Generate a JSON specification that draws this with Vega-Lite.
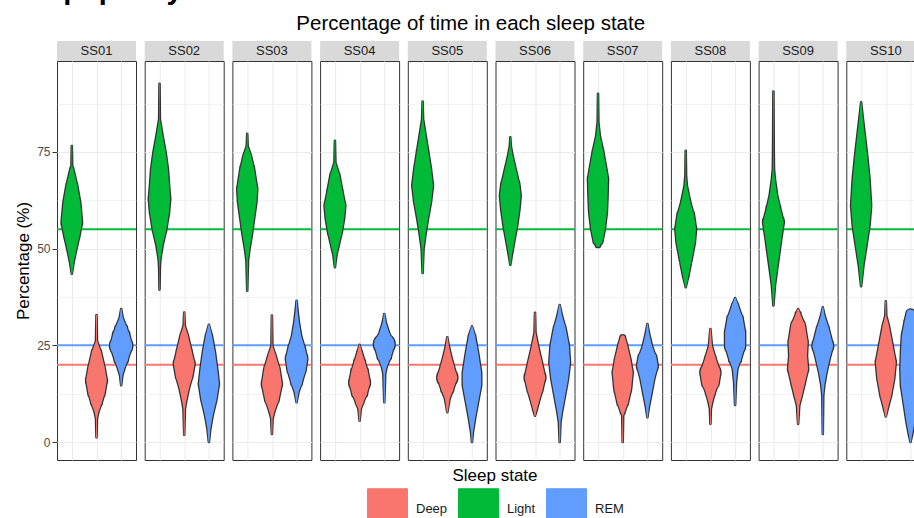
{
  "$schema": "https://vega.github.io/schema/vega-lite/v6.json",
  "padding": {"left": 3, "top": -24, "right": 5, "bottom": 5},
  "background": "white",
  "title": {"text": "Sleep quality", "fontSize": 29, "fontWeight": "bold", "color": "#000000", "anchor": "start", "offset": 8.5, "dx": -11},
  "vconcat": [{
  "bounds": "flush",
  "title": {"text": "Percentage of time in each sleep state", "fontSize": 20.5, "fontWeight": "normal", "color": "#000000", "anchor": "middle", "offset": 6},
  "data": {"values": [
    {"subject":"SS01","state":"Light","ref":55},{"subject":"SS01","state":"Deep","ref":20},{"subject":"SS01","state":"REM","ref":25},
    {"subject":"SS02","state":"Light","ref":55},{"subject":"SS02","state":"Deep","ref":20},{"subject":"SS02","state":"REM","ref":25},
    {"subject":"SS03","state":"Light","ref":55},{"subject":"SS03","state":"Deep","ref":20},{"subject":"SS03","state":"REM","ref":25},
    {"subject":"SS04","state":"Light","ref":55},{"subject":"SS04","state":"Deep","ref":20},{"subject":"SS04","state":"REM","ref":25},
    {"subject":"SS05","state":"Light","ref":55},{"subject":"SS05","state":"Deep","ref":20},{"subject":"SS05","state":"REM","ref":25},
    {"subject":"SS06","state":"Light","ref":55},{"subject":"SS06","state":"Deep","ref":20},{"subject":"SS06","state":"REM","ref":25},
    {"subject":"SS07","state":"Light","ref":55},{"subject":"SS07","state":"Deep","ref":20},{"subject":"SS07","state":"REM","ref":25},
    {"subject":"SS08","state":"Light","ref":55},{"subject":"SS08","state":"Deep","ref":20},{"subject":"SS08","state":"REM","ref":25},
    {"subject":"SS09","state":"Light","ref":55},{"subject":"SS09","state":"Deep","ref":20},{"subject":"SS09","state":"REM","ref":25},
    {"subject":"SS10","state":"Light","ref":55},{"subject":"SS10","state":"Deep","ref":20},{"subject":"SS10","state":"REM","ref":25},

    {"subject":"SS01","state":"Light","pct":76.5,"density":0},{"subject":"SS01","state":"Light","pct":71.5,"density":0.03},{"subject":"SS01","state":"Light","pct":70.6,"density":0.13},{"subject":"SS01","state":"Light","pct":66.3,"density":0.47},{"subject":"SS01","state":"Light","pct":62.0,"density":0.73},{"subject":"SS01","state":"Light","pct":56.8,"density":0.89},{"subject":"SS01","state":"Light","pct":53.4,"density":0.67},{"subject":"SS01","state":"Light","pct":49.9,"density":0.4},{"subject":"SS01","state":"Light","pct":46.5,"density":0.16},{"subject":"SS01","state":"Light","pct":43.5,"density":0},
    {"subject":"SS01","state":"Deep","pct":32.8,"density":0},{"subject":"SS01","state":"Deep","pct":26.2,"density":0.04},{"subject":"SS01","state":"Deep","pct":23.2,"density":0.4},{"subject":"SS01","state":"Deep","pct":18.9,"density":0.73},{"subject":"SS01","state":"Deep","pct":15.9,"density":0.9},{"subject":"SS01","state":"Deep","pct":12.9,"density":0.73},{"subject":"SS01","state":"Deep","pct":10.3,"density":0.47},{"subject":"SS01","state":"Deep","pct":7.7,"density":0.16},{"subject":"SS01","state":"Deep","pct":6.0,"density":0.04},{"subject":"SS01","state":"Deep","pct":1.2,"density":0},
    {"subject":"SS01","state":"REM","pct":34.4,"density":0},{"subject":"SS01","state":"REM","pct":32.2,"density":0.13},{"subject":"SS01","state":"REM","pct":29.2,"density":0.53},{"subject":"SS01","state":"REM","pct":27.5,"density":0.73},{"subject":"SS01","state":"REM","pct":24.9,"density":0.96},{"subject":"SS01","state":"REM","pct":21.5,"density":0.6},{"subject":"SS01","state":"REM","pct":18.9,"density":0.27},{"subject":"SS01","state":"REM","pct":17.2,"density":0.1},{"subject":"SS01","state":"REM","pct":14.7,"density":0},

    {"subject":"SS02","state":"Light","pct":92.6,"density":0},{"subject":"SS02","state":"Light","pct":83.5,"density":0.03},{"subject":"SS02","state":"Light","pct":79.2,"density":0.27},{"subject":"SS02","state":"Light","pct":74.9,"density":0.53},{"subject":"SS02","state":"Light","pct":70.6,"density":0.73},{"subject":"SS02","state":"Light","pct":66.3,"density":0.83},{"subject":"SS02","state":"Light","pct":62.8,"density":0.93},{"subject":"SS02","state":"Light","pct":59.4,"density":0.83},{"subject":"SS02","state":"Light","pct":55.1,"density":0.6},{"subject":"SS02","state":"Light","pct":50.8,"density":0.27},{"subject":"SS02","state":"Light","pct":47.3,"density":0.08},{"subject":"SS02","state":"Light","pct":45.0,"density":0.03},{"subject":"SS02","state":"Light","pct":39.4,"density":0},
    {"subject":"SS02","state":"Deep","pct":33.5,"density":0},{"subject":"SS02","state":"Deep","pct":30.1,"density":0.05},{"subject":"SS02","state":"Deep","pct":27.5,"density":0.33},{"subject":"SS02","state":"Deep","pct":23.2,"density":0.67},{"subject":"SS02","state":"Deep","pct":20.2,"density":0.9},{"subject":"SS02","state":"Deep","pct":17.2,"density":0.73},{"subject":"SS02","state":"Deep","pct":13.7,"density":0.4},{"subject":"SS02","state":"Deep","pct":10.3,"density":0.16},{"subject":"SS02","state":"Deep","pct":8.5,"density":0.06},{"subject":"SS02","state":"Deep","pct":1.9,"density":0},
    {"subject":"SS02","state":"REM","pct":30.3,"density":0},{"subject":"SS02","state":"REM","pct":27.5,"density":0.27},{"subject":"SS02","state":"REM","pct":23.2,"density":0.53},{"subject":"SS02","state":"REM","pct":18.9,"density":0.73},{"subject":"SS02","state":"REM","pct":15.0,"density":0.87},{"subject":"SS02","state":"REM","pct":11.1,"density":0.67},{"subject":"SS02","state":"REM","pct":6.8,"density":0.33},{"subject":"SS02","state":"REM","pct":3.4,"density":0.13},{"subject":"SS02","state":"REM","pct":0,"density":0},

    {"subject":"SS03","state":"Light","pct":79.7,"density":0},{"subject":"SS03","state":"Light","pct":76.6,"density":0.04},{"subject":"SS03","state":"Light","pct":74.0,"density":0.33},{"subject":"SS03","state":"Light","pct":70.6,"density":0.6},{"subject":"SS03","state":"Light","pct":65.4,"density":0.87},{"subject":"SS03","state":"Light","pct":62.0,"density":0.8},{"subject":"SS03","state":"Light","pct":57.7,"density":0.6},{"subject":"SS03","state":"Light","pct":53.4,"density":0.4},{"subject":"SS03","state":"Light","pct":49.9,"density":0.2},{"subject":"SS03","state":"Light","pct":46.9,"density":0.07},{"subject":"SS03","state":"Light","pct":39.1,"density":0},
    {"subject":"SS03","state":"Deep","pct":32.7,"density":0},{"subject":"SS03","state":"Deep","pct":24.9,"density":0.04},{"subject":"SS03","state":"Deep","pct":22.3,"density":0.33},{"subject":"SS03","state":"Deep","pct":18.9,"density":0.67},{"subject":"SS03","state":"Deep","pct":15.0,"density":0.87},{"subject":"SS03","state":"Deep","pct":11.1,"density":0.6},{"subject":"SS03","state":"Deep","pct":7.7,"density":0.2},{"subject":"SS03","state":"Deep","pct":6.0,"density":0.06},{"subject":"SS03","state":"Deep","pct":2.1,"density":0},
    {"subject":"SS03","state":"REM","pct":36.5,"density":0},{"subject":"SS03","state":"REM","pct":34.4,"density":0.07},{"subject":"SS03","state":"REM","pct":31.0,"density":0.2},{"subject":"SS03","state":"REM","pct":27.5,"density":0.4},{"subject":"SS03","state":"REM","pct":24.1,"density":0.73},{"subject":"SS03","state":"REM","pct":21.5,"density":0.93},{"subject":"SS03","state":"REM","pct":18.9,"density":0.8},{"subject":"SS03","state":"REM","pct":15.4,"density":0.47},{"subject":"SS03","state":"REM","pct":12.8,"density":0.16},{"subject":"SS03","state":"REM","pct":10.3,"density":0},

    {"subject":"SS04","state":"Light","pct":77.9,"density":0},{"subject":"SS04","state":"Light","pct":72.3,"density":0.04},{"subject":"SS04","state":"Light","pct":68.9,"density":0.4},{"subject":"SS04","state":"Light","pct":64.6,"density":0.67},{"subject":"SS04","state":"Light","pct":61.1,"density":0.9},{"subject":"SS04","state":"Light","pct":57.7,"density":0.8},{"subject":"SS04","state":"Light","pct":54.2,"density":0.6},{"subject":"SS04","state":"Light","pct":50.8,"density":0.33},{"subject":"SS04","state":"Light","pct":48.2,"density":0.13},{"subject":"SS04","state":"Light","pct":45.2,"density":0},
    {"subject":"SS04","state":"Deep","pct":25.1,"density":0},{"subject":"SS04","state":"Deep","pct":23.2,"density":0.2},{"subject":"SS04","state":"Deep","pct":20.6,"density":0.47},{"subject":"SS04","state":"Deep","pct":18.0,"density":0.73},{"subject":"SS04","state":"Deep","pct":15.4,"density":0.9},{"subject":"SS04","state":"Deep","pct":12.8,"density":0.67},{"subject":"SS04","state":"Deep","pct":10.3,"density":0.33},{"subject":"SS04","state":"Deep","pct":8.5,"density":0.1},{"subject":"SS04","state":"Deep","pct":5.5,"density":0},
    {"subject":"SS04","state":"REM","pct":33.1,"density":0},{"subject":"SS04","state":"REM","pct":31.0,"density":0.13},{"subject":"SS04","state":"REM","pct":28.4,"density":0.4},{"subject":"SS04","state":"REM","pct":25.3,"density":0.9},{"subject":"SS04","state":"REM","pct":22.3,"density":0.6},{"subject":"SS04","state":"REM","pct":19.3,"density":0.2},{"subject":"SS04","state":"REM","pct":17.6,"density":0.08},{"subject":"SS04","state":"REM","pct":10.3,"density":0},

    {"subject":"SS05","state":"Light","pct":88.0,"density":0},{"subject":"SS05","state":"Light","pct":83.5,"density":0.04},{"subject":"SS05","state":"Light","pct":79.2,"density":0.27},{"subject":"SS05","state":"Light","pct":74.9,"density":0.5},{"subject":"SS05","state":"Light","pct":70.6,"density":0.73},{"subject":"SS05","state":"Light","pct":66.3,"density":0.9},{"subject":"SS05","state":"Light","pct":62.0,"density":0.73},{"subject":"SS05","state":"Light","pct":57.7,"density":0.47},{"subject":"SS05","state":"Light","pct":53.4,"density":0.24},{"subject":"SS05","state":"Light","pct":49.9,"density":0.08},{"subject":"SS05","state":"Light","pct":43.7,"density":0},
    {"subject":"SS05","state":"Deep","pct":27.1,"density":0},{"subject":"SS05","state":"Deep","pct":24.9,"density":0.13},{"subject":"SS05","state":"Deep","pct":22.3,"density":0.33},{"subject":"SS05","state":"Deep","pct":19.3,"density":0.6},{"subject":"SS05","state":"Deep","pct":16.7,"density":0.87},{"subject":"SS05","state":"Deep","pct":13.7,"density":0.53},{"subject":"SS05","state":"Deep","pct":11.1,"density":0.2},{"subject":"SS05","state":"Deep","pct":7.7,"density":0},
    {"subject":"SS05","state":"REM","pct":29.9,"density":0},{"subject":"SS05","state":"REM","pct":27.5,"density":0.27},{"subject":"SS05","state":"REM","pct":23.2,"density":0.53},{"subject":"SS05","state":"REM","pct":18.0,"density":0.8},{"subject":"SS05","state":"REM","pct":14.6,"density":0.8},{"subject":"SS05","state":"REM","pct":10.3,"density":0.53},{"subject":"SS05","state":"REM","pct":6.0,"density":0.27},{"subject":"SS05","state":"REM","pct":2.5,"density":0.08},{"subject":"SS05","state":"REM","pct":0,"density":0},

    {"subject":"SS06","state":"Light","pct":78.8,"density":0},{"subject":"SS06","state":"Light","pct":76.6,"density":0.04},{"subject":"SS06","state":"Light","pct":74.0,"density":0.2},{"subject":"SS06","state":"Light","pct":70.6,"density":0.47},{"subject":"SS06","state":"Light","pct":66.3,"density":0.8},{"subject":"SS06","state":"Light","pct":63.7,"density":0.9},{"subject":"SS06","state":"Light","pct":60.3,"density":0.8},{"subject":"SS06","state":"Light","pct":56.0,"density":0.6},{"subject":"SS06","state":"Light","pct":51.6,"density":0.33},{"subject":"SS06","state":"Light","pct":48.2,"density":0.13},{"subject":"SS06","state":"Light","pct":45.8,"density":0},
    {"subject":"SS06","state":"Deep","pct":33.4,"density":0},{"subject":"SS06","state":"Deep","pct":28.4,"density":0.04},{"subject":"SS06","state":"Deep","pct":24.9,"density":0.27},{"subject":"SS06","state":"Deep","pct":20.6,"density":0.6},{"subject":"SS06","state":"Deep","pct":16.7,"density":0.9},{"subject":"SS06","state":"Deep","pct":13.7,"density":0.67},{"subject":"SS06","state":"Deep","pct":10.3,"density":0.33},{"subject":"SS06","state":"Deep","pct":7.7,"density":0.1},{"subject":"SS06","state":"Deep","pct":6.8,"density":0},
    {"subject":"SS06","state":"REM","pct":35.4,"density":0},{"subject":"SS06","state":"REM","pct":32.7,"density":0.2},{"subject":"SS06","state":"REM","pct":29.2,"density":0.53},{"subject":"SS06","state":"REM","pct":24.9,"density":0.8},{"subject":"SS06","state":"REM","pct":20.6,"density":0.9},{"subject":"SS06","state":"REM","pct":16.3,"density":0.73},{"subject":"SS06","state":"REM","pct":12.0,"density":0.47},{"subject":"SS06","state":"REM","pct":7.7,"density":0.2},{"subject":"SS06","state":"REM","pct":5.1,"density":0.07},{"subject":"SS06","state":"REM","pct":0,"density":0},

    {"subject":"SS07","state":"Light","pct":90.0,"density":0},{"subject":"SS07","state":"Light","pct":82.7,"density":0.03},{"subject":"SS07","state":"Light","pct":79.2,"density":0.16},{"subject":"SS07","state":"Light","pct":74.9,"density":0.47},{"subject":"SS07","state":"Light","pct":70.6,"density":0.73},{"subject":"SS07","state":"Light","pct":68.0,"density":0.87},{"subject":"SS07","state":"Light","pct":63.7,"density":0.83},{"subject":"SS07","state":"Light","pct":59.4,"density":0.77},{"subject":"SS07","state":"Light","pct":55.1,"density":0.6},{"subject":"SS07","state":"Light","pct":52.1,"density":0.4},{"subject":"SS07","state":"Light","pct":51.0,"density":0.2},{"subject":"SS07","state":"Light","pct":50.5,"density":0},
    {"subject":"SS07","state":"Deep","pct":27.2,"density":0},{"subject":"SS07","state":"Deep","pct":27.0,"density":0.2},{"subject":"SS07","state":"Deep","pct":24.9,"density":0.4},{"subject":"SS07","state":"Deep","pct":21.5,"density":0.67},{"subject":"SS07","state":"Deep","pct":18.0,"density":0.87},{"subject":"SS07","state":"Deep","pct":13.7,"density":0.73},{"subject":"SS07","state":"Deep","pct":10.3,"density":0.47},{"subject":"SS07","state":"Deep","pct":7.7,"density":0.16},{"subject":"SS07","state":"Deep","pct":6.8,"density":0.04},{"subject":"SS07","state":"Deep","pct":0,"density":0},
    {"subject":"SS07","state":"REM","pct":30.5,"density":0},{"subject":"SS07","state":"REM","pct":28.4,"density":0.13},{"subject":"SS07","state":"REM","pct":24.9,"density":0.4},{"subject":"SS07","state":"REM","pct":21.5,"density":0.8},{"subject":"SS07","state":"REM","pct":19.7,"density":0.9},{"subject":"SS07","state":"REM","pct":16.3,"density":0.6},{"subject":"SS07","state":"REM","pct":12.0,"density":0.33},{"subject":"SS07","state":"REM","pct":9.0,"density":0.13},{"subject":"SS07","state":"REM","pct":6.4,"density":0},

    {"subject":"SS08","state":"Light","pct":75.3,"density":0},{"subject":"SS08","state":"Light","pct":68.9,"density":0.03},{"subject":"SS08","state":"Light","pct":66.3,"density":0.1},{"subject":"SS08","state":"Light","pct":62.0,"density":0.4},{"subject":"SS08","state":"Light","pct":58.5,"density":0.73},{"subject":"SS08","state":"Light","pct":55.1,"density":0.9},{"subject":"SS08","state":"Light","pct":51.6,"density":0.8},{"subject":"SS08","state":"Light","pct":47.3,"density":0.53},{"subject":"SS08","state":"Light","pct":43.0,"density":0.24},{"subject":"SS08","state":"Light","pct":40.0,"density":0},
    {"subject":"SS08","state":"Deep","pct":29.2,"density":0},{"subject":"SS08","state":"Deep","pct":24.9,"density":0.13},{"subject":"SS08","state":"Deep","pct":21.5,"density":0.47},{"subject":"SS08","state":"Deep","pct":18.0,"density":0.87},{"subject":"SS08","state":"Deep","pct":15.4,"density":0.73},{"subject":"SS08","state":"Deep","pct":12.8,"density":0.4},{"subject":"SS08","state":"Deep","pct":10.3,"density":0.16},{"subject":"SS08","state":"Deep","pct":8.5,"density":0.04},{"subject":"SS08","state":"Deep","pct":4.7,"density":0},
    {"subject":"SS08","state":"REM","pct":37.2,"density":0},{"subject":"SS08","state":"REM","pct":35.3,"density":0.27},{"subject":"SS08","state":"REM","pct":31.8,"density":0.67},{"subject":"SS08","state":"REM","pct":28.4,"density":0.87},{"subject":"SS08","state":"REM","pct":24.9,"density":0.87},{"subject":"SS08","state":"REM","pct":21.5,"density":0.53},{"subject":"SS08","state":"REM","pct":18.9,"density":0.2},{"subject":"SS08","state":"REM","pct":15.4,"density":0.08},{"subject":"SS08","state":"REM","pct":9.6,"density":0},

    {"subject":"SS09","state":"Light","pct":90.6,"density":0},{"subject":"SS09","state":"Light","pct":74.9,"density":0.03},{"subject":"SS09","state":"Light","pct":70.6,"density":0.05},{"subject":"SS09","state":"Light","pct":68.0,"density":0.13},{"subject":"SS09","state":"Light","pct":63.7,"density":0.33},{"subject":"SS09","state":"Light","pct":60.3,"density":0.6},{"subject":"SS09","state":"Light","pct":56.8,"density":0.9},{"subject":"SS09","state":"Light","pct":53.4,"density":0.73},{"subject":"SS09","state":"Light","pct":49.1,"density":0.53},{"subject":"SS09","state":"Light","pct":44.8,"density":0.33},{"subject":"SS09","state":"Light","pct":40.4,"density":0.13},{"subject":"SS09","state":"Light","pct":35.3,"density":0},
    {"subject":"SS09","state":"Deep","pct":34.4,"density":0},{"subject":"SS09","state":"Deep","pct":33.1,"density":0.2},{"subject":"SS09","state":"Deep","pct":30.1,"density":0.6},{"subject":"SS09","state":"Deep","pct":25.8,"density":0.83},{"subject":"SS09","state":"Deep","pct":22.3,"density":0.77},{"subject":"SS09","state":"Deep","pct":18.9,"density":0.87},{"subject":"SS09","state":"Deep","pct":15.4,"density":0.6},{"subject":"SS09","state":"Deep","pct":12.0,"density":0.33},{"subject":"SS09","state":"Deep","pct":9.4,"density":0.1},{"subject":"SS09","state":"Deep","pct":4.7,"density":0},
    {"subject":"SS09","state":"REM","pct":34.8,"density":0},{"subject":"SS09","state":"REM","pct":32.7,"density":0.16},{"subject":"SS09","state":"REM","pct":29.2,"density":0.53},{"subject":"SS09","state":"REM","pct":24.9,"density":0.9},{"subject":"SS09","state":"REM","pct":21.5,"density":0.6},{"subject":"SS09","state":"REM","pct":18.0,"density":0.33},{"subject":"SS09","state":"REM","pct":14.6,"density":0.13},{"subject":"SS09","state":"REM","pct":12.0,"density":0.04},{"subject":"SS09","state":"REM","pct":2.1,"density":0},

    {"subject":"SS10","state":"Light","pct":87.8,"density":0},{"subject":"SS10","state":"Light","pct":83.5,"density":0.16},{"subject":"SS10","state":"Light","pct":79.2,"density":0.33},{"subject":"SS10","state":"Light","pct":74.0,"density":0.53},{"subject":"SS10","state":"Light","pct":68.0,"density":0.73},{"subject":"SS10","state":"Light","pct":61.1,"density":0.87},{"subject":"SS10","state":"Light","pct":55.9,"density":0.73},{"subject":"SS10","state":"Light","pct":50.8,"density":0.47},{"subject":"SS10","state":"Light","pct":45.6,"density":0.2},{"subject":"SS10","state":"Light","pct":40.3,"density":0},
    {"subject":"SS10","state":"Deep","pct":36.4,"density":0},{"subject":"SS10","state":"Deep","pct":32.7,"density":0.04},{"subject":"SS10","state":"Deep","pct":30.1,"density":0.27},{"subject":"SS10","state":"Deep","pct":24.9,"density":0.6},{"subject":"SS10","state":"Deep","pct":20.6,"density":0.87},{"subject":"SS10","state":"Deep","pct":16.3,"density":0.73},{"subject":"SS10","state":"Deep","pct":12.0,"density":0.47},{"subject":"SS10","state":"Deep","pct":8.5,"density":0.16},{"subject":"SS10","state":"Deep","pct":6.6,"density":0},
    {"subject":"SS10","state":"REM","pct":33.6,"density":0},{"subject":"SS10","state":"REM","pct":33.2,"density":0.35},{"subject":"SS10","state":"REM","pct":30.9,"density":0.53},{"subject":"SS10","state":"REM","pct":27.5,"density":0.75},{"subject":"SS10","state":"REM","pct":23.2,"density":0.83},{"subject":"SS10","state":"REM","pct":18.9,"density":0.88},{"subject":"SS10","state":"REM","pct":14.6,"density":0.83},{"subject":"SS10","state":"REM","pct":10.3,"density":0.61},{"subject":"SS10","state":"REM","pct":5.1,"density":0.35},{"subject":"SS10","state":"REM","pct":1.7,"density":0.13},{"subject":"SS10","state":"REM","pct":0,"density":0}
  ]},
  "facet": {"column": {"field": "subject", "type": "nominal", "header": {"title": null, "labels": false}}},
  "spacing": 8.7,
  "spec": {
    "width": 79,
    "height": 399,
    "layer": [
      {
        "transform": [{"filter": "isValid(datum.ref) && datum.state === 'Light'"}],
        "mark": {"type": "rule", "strokeWidth": 2, "color": "#00BA38"},
        "encoding": {
          "y": {"field": "ref", "type": "quantitative", "title": "Percentage (%)",
                "scale": {"domain": [-4.65, 98.5], "nice": false, "zero": false},
                "axis": {"values": [0, 12.5, 25, 37.5, 50, 62.5, 75, 87.5], "format": ".0f",
                         "labelExpr": "datum.value % 25 === 0 ? datum.label : ''",
                         "tickOpacity": {"condition": {"test": "datum.value % 25 !== 0", "value": 0}, "value": 1},
                         "gridWidth": {"condition": {"test": "datum.value % 25 !== 0", "value": 0.6}, "value": 1.1}}}
        }
      },
      {
        "transform": [{"filter": "isValid(datum.ref) && datum.state === 'Deep'"}],
        "mark": {"type": "rule", "strokeWidth": 2, "color": "#F8766D"},
        "encoding": {
          "y": {"field": "ref", "type": "quantitative", "title": "Percentage (%)", "scale": {"domain": [-4.65, 98.5], "nice": false, "zero": false}}
        }
      },
      {
        "transform": [{"filter": "isValid(datum.ref) && datum.state === 'REM'"}],
        "mark": {"type": "rule", "strokeWidth": 2, "color": "#619CFF"},
        "encoding": {
          "y": {"field": "ref", "type": "quantitative", "title": "Percentage (%)", "scale": {"domain": [-4.65, 98.5], "nice": false, "zero": false}}
        }
      },
      {
        "transform": [{"filter": "isValid(datum.pct)"}],
        "mark": {"type": "trail", "color": "#333333"},
        "encoding": {
          "x": {"field": "state", "type": "nominal", "scale": {"type": "point", "domain": ["Light", "Deep", "REM"], "padding": 0.6},
                "axis": {"labels": false, "ticks": false, "domain": false, "title": null, "grid": true}},
          "y": {"field": "pct", "type": "quantitative", "title": "Percentage (%)", "scale": {"domain": [-4.65, 98.5], "nice": false, "zero": false}},
          "detail": {"field": "state", "type": "nominal"},
          "order": {"field": "pct", "type": "quantitative"},
          "size": {"field": "density", "type": "quantitative", "scale": {"domain": [0, 1], "range": [2.6, 25.6], "zero": false}, "legend": null}
        }
      },
      {
        "transform": [{"filter": "isValid(datum.pct)"}],
        "mark": {"type": "trail", "opacity": 1},
        "encoding": {
          "x": {"field": "state", "type": "nominal", "scale": {"type": "point", "domain": ["Light", "Deep", "REM"], "padding": 0.6}},
          "y": {"field": "pct", "type": "quantitative", "title": "Percentage (%)", "scale": {"domain": [-4.65, 98.5], "nice": false, "zero": false}},
          "order": {"field": "pct", "type": "quantitative"},
          "size": {"field": "density", "type": "quantitative", "scale": {"domain": [0, 1], "range": [0, 23], "zero": false}, "legend": null},
          "color": {"field": "state", "type": "nominal",
                    "scale": {"domain": ["Deep", "Light", "REM"], "range": ["#F8766D", "#00BA38", "#619CFF"]},
                    "legend": {"title": "Sleep state", "orient": "none", "legendX": 310, "legendY": 407, "direction": "horizontal",
                               "titleOrient": "top", "titleAnchor": "middle", "titleFontSize": 17, "titleFontWeight": "normal",
                               "titleColor": "#000000", "titlePadding": 3, "labelFontSize": 13, "labelColor": "#1a1a1a",
                               "symbolType": "square", "symbolSize": 1600, "symbolStrokeColor": "#333333", "symbolStrokeWidth": 1,
                               "symbolOpacity": 1, "labelOffset": 8, "columnPadding": 8,
                               "encode": {"symbols": {"update": {"fill": {"scale": "color", "field": "value"},
                                                                 "stroke": {"value": "#333333"},
                                                                 "strokeWidth": {"value": 1}}}}}}
        }
      },
      {
        "transform": [{"filter": "isValid(datum.ref) && datum.state === 'Deep'"}],
        "mark": {"type": "rect", "color": "#d9d9d9"},
        "encoding": {
          "y": {"datum": 98.5, "type": "quantitative", "scale": {"domain": [-4.65, 98.5], "nice": false, "zero": false}},
          "y2": {"datum": 103.7}
        }
      },
      {
        "transform": [{"filter": "isValid(datum.ref) && datum.state === 'Deep'"}],
        "mark": {"type": "text", "fontSize": 13, "color": "#1a1a1a", "baseline": "middle", "align": "center"},
        "encoding": {
          "x": {"datum": "Deep", "type": "nominal", "scale": {"type": "point", "domain": ["Light", "Deep", "REM"], "padding": 0.6}},
          "y": {"datum": 101.1, "type": "quantitative", "scale": {"domain": [-4.65, 98.5], "nice": false, "zero": false}},
          "text": {"field": "subject", "type": "nominal"}
        }
      }
    ],
    "resolve": {"scale": {"size": "independent"}}
  }
  }],
  "config": {
    "font": "Liberation Sans",
    "view": {"stroke": "#333333", "strokeWidth": 1},
    "axis": {"gridColor": "#ebebeb"},
    "axisY": {"labelFontSize": 12, "labelColor": "#4d4d4d", "tickColor": "#333333", "tickSize": 5, "labelPadding": 2,
              "titleFontSize": 17, "titleFontWeight": "normal", "titleColor": "#000000", "titlePadding": 4, "domain": false}
  }
}
